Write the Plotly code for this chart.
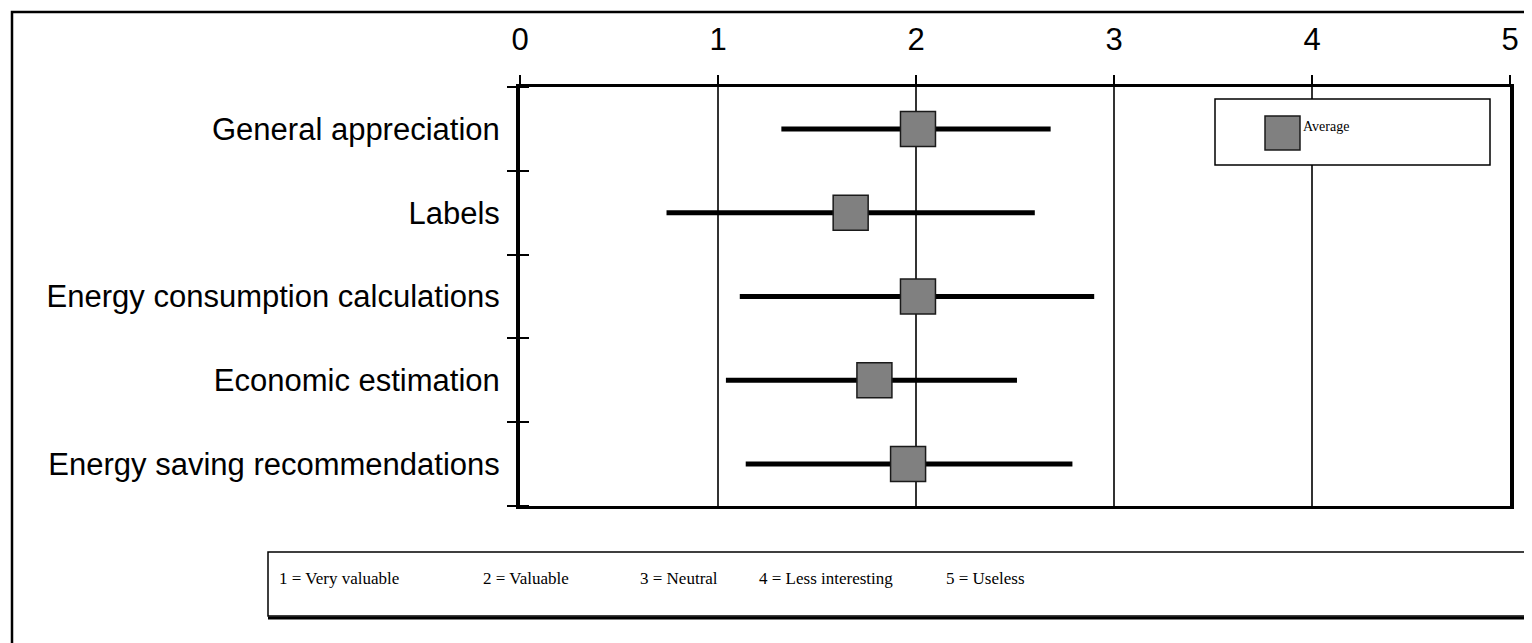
import plotly.graph_objects as go

# ---- data ----
categories = [
    "General appreciation",
    "Labels",
    "Energy consumption calculations",
    "Economic estimation",
    "Energy saving recommendations",
]
average = [2.01, 1.67, 2.01, 1.79, 1.96]
low = [1.32, 0.74, 1.11, 1.04, 1.14]
high = [2.68, 2.60, 2.90, 2.51, 2.79]
x_ticks = [0, 1, 2, 3, 4, 5]
scale_labels = ["1 = Very valuable", "2 = Valuable", "3 = Neutral",
                "4 = Less interesting", "5 = Useless"]
legend_name = "Average"

# ---- geometry (screen pixels; page body has an 8px margin) ----
OFF = 8
W, H = 1532 - OFF, 643 - OFF
L = 520 - OFF
T = 87 - OFF
R = W - (1510 - OFF)
B = H - (506 - OFF)
pw, ph = W - L - R, H - T - B


def px(x):
    return (x - OFF - L) / pw


def py(y):
    return (H - B - (y - OFF)) / ph


ypos = list(range(len(categories)))
bounds = [i - 0.5 for i in range(len(categories) + 1)]

# range lines built from the low/high arrays
lx, ly = [], []
for i, (a, b) in enumerate(zip(low, high)):
    lx += [a, b, None]
    ly += [i, i, None]

fig = go.Figure()
fig.add_trace(go.Scatter(
    x=lx, y=ly, mode="lines", line=dict(color="black", width=5),
    showlegend=False, hoverinfo="skip", xaxis="x", yaxis="y"))
fig.add_trace(go.Scatter(
    x=average, y=ypos, mode="markers", name=legend_name,
    marker=dict(symbol="square", size=35, color="#808080",
                line=dict(color="#1a1a1a", width=1.5)),
    showlegend=False, xaxis="x", yaxis="y2"))

fig.update_layout(
    width=W, height=H,
    margin=dict(l=L, r=R, t=T, b=B, pad=0, autoexpand=False),
    paper_bgcolor="white", plot_bgcolor="white",
    font=dict(family="Liberation Sans", color="black"),
    xaxis=dict(
        side="top", range=[0, 5], tickvals=x_ticks,
        ticktext=[str(v) for v in x_ticks],
        tickfont=dict(size=31, family="Liberation Sans"),
        ticks="outside", ticklen=9, tickwidth=1.5, tickcolor="black",
        ticklabelstandoff=13, automargin=False,
        showgrid=True, gridcolor="#333333", gridwidth=1.5,
        showline=True, linecolor="black", linewidth=2.5, mirror=True,
        zeroline=False, fixedrange=True,
    ),
    yaxis=dict(
        range=[len(categories) - 0.5, -0.5], tickvals=ypos,
        ticktext=categories, tickfont=dict(size=31, family="Liberation Sans"),
        ticks="", ticklabelstandoff=10, automargin=False,
        minor=dict(tickvals=bounds, ticks="outside", ticklen=9,
                   tickwidth=1.5, tickcolor="black", showgrid=False),
        showgrid=False, showline=True, linecolor="black", linewidth=4,
        mirror=True, zeroline=False, fixedrange=True,
    ),
    yaxis2=dict(
        overlaying="y", anchor="x", side="left",
        range=[len(categories) - 0.5, -0.5], tickvals=ypos,
        showticklabels=False, ticks="", automargin=False,
        minor=dict(tickvals=bounds, ticks="inside", ticklen=9,
                   tickwidth=1.5, tickcolor="black", showgrid=False),
        showgrid=False, showline=False, zeroline=False, fixedrange=True,
    ),
)

shapes = []
# outer chart border (right and bottom edges fall outside the picture)
shapes.append(dict(type="rect", xref="paper", yref="paper",
                   x0=px(12), x1=px(1545), y0=py(652), y1=py(12),
                   line=dict(color="black", width=2.5), layer="below"))
# legend box
shapes.append(dict(type="rect", xref="paper", yref="paper",
                   x0=px(1215), x1=px(1490), y0=py(165), y1=py(99),
                   line=dict(color="black", width=1.5),
                   fillcolor="white", layer="above"))
# legend swatch
shapes.append(dict(type="rect", xref="paper", yref="paper",
                   x0=px(1265), x1=px(1300), y0=py(150), y1=py(116),
                   line=dict(color="#1a1a1a", width=1.5),
                   fillcolor="#808080", layer="above"))
# scale explanation box
shapes.append(dict(type="rect", xref="paper", yref="paper",
                   x0=px(268), x1=px(1545), y0=py(616), y1=py(552),
                   line=dict(color="black", width=1.5), layer="below"))
shapes.append(dict(type="line", xref="paper", yref="paper",
                   x0=px(268), x1=px(1545), y0=py(618), y1=py(618),
                   line=dict(color="black", width=3), layer="below"))
fig.update_layout(shapes=shapes)

annotations = [dict(
    text=legend_name, xref="paper", yref="paper", x=px(1301), y=py(126),
    xanchor="left", yanchor="middle", showarrow=False,
    font=dict(family="Liberation Serif", size=14, color="black"))]
label_x = [277, 481, 638, 757, 944]
for lab, xx in zip(scale_labels, label_x):
    annotations.append(dict(
        text=lab, xref="paper", yref="paper", x=px(xx), y=py(578),
        xanchor="left", yanchor="middle", showarrow=False,
        font=dict(family="Liberation Serif", size=17, color="black")))
fig.update_layout(annotations=annotations)

fig.write_html("out.html")
